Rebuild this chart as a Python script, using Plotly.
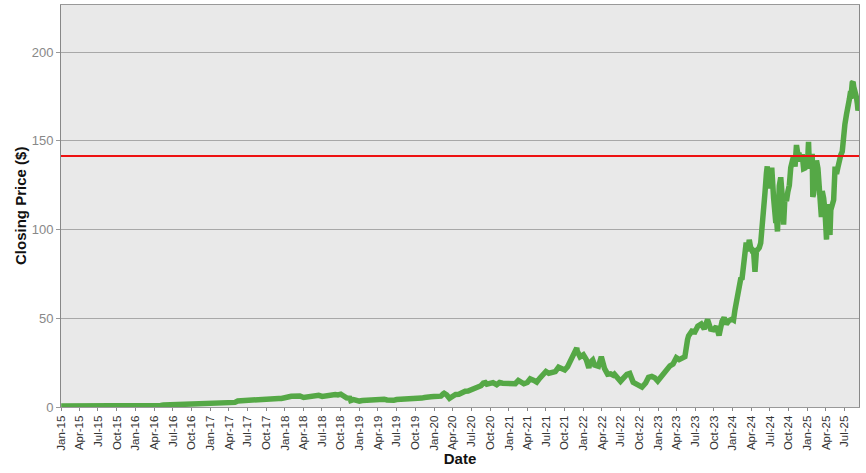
import plotly.graph_objects as go

dates = [
    "2015-01-02","2015-01-15","2015-02-02","2015-02-17","2015-03-02","2015-03-16","2015-04-01","2015-04-15",
    "2015-05-01","2015-05-15","2015-06-01","2015-06-15","2015-07-01","2015-07-15","2015-08-03","2015-08-17",
    "2015-09-01","2015-09-15","2015-10-01","2015-10-15","2015-11-02","2015-11-16","2015-12-01","2015-12-15","2015-12-31",
    "2016-01-15","2016-02-01","2016-02-16","2016-03-01","2016-03-15","2016-04-01","2016-04-15","2016-05-02","2016-05-16",
    "2016-06-01","2016-06-15","2016-07-01","2016-07-15","2016-08-01","2016-08-15","2016-09-01","2016-09-15","2016-10-03",
    "2016-10-17","2016-11-01","2016-11-15","2016-12-01","2016-12-15","2016-12-30",
    "2017-01-13","2017-02-01","2017-02-15","2017-03-01","2017-03-15","2017-04-03","2017-04-17","2017-05-01","2017-05-15",
    "2017-06-01","2017-06-15","2017-07-03","2017-07-17","2017-08-01","2017-08-15","2017-09-01","2017-09-15","2017-10-02",
    "2017-10-16","2017-11-01","2017-11-15","2017-12-01","2017-12-15","2017-12-29",
    "2018-01-16","2018-02-01","2018-02-15","2018-03-01","2018-03-15","2018-04-02","2018-04-16","2018-05-01","2018-05-15",
    "2018-06-01","2018-06-15","2018-07-02","2018-07-16","2018-08-01","2018-08-15","2018-09-04","2018-09-17","2018-10-01",
    "2018-10-15","2018-10-29","2018-11-15","2018-11-19","2018-12-03","2018-12-14","2018-12-24","2018-12-31",
    "2019-01-15","2019-02-01","2019-02-15","2019-03-01","2019-03-15","2019-04-01","2019-04-15","2019-05-01","2019-05-15",
    "2019-06-03","2019-06-17","2019-07-01","2019-07-15","2019-08-01","2019-08-15","2019-09-03","2019-09-16","2019-10-01",
    "2019-10-15","2019-11-01","2019-11-15","2019-12-02","2019-12-16","2019-12-31",
    "2020-01-15","2020-02-03","2020-02-14","2020-02-19","2020-03-02","2020-03-16","2020-04-01","2020-04-15","2020-05-01",
    "2020-05-15","2020-06-01","2020-06-15","2020-07-01","2020-07-15","2020-08-03","2020-08-17","2020-09-01","2020-09-02",
    "2020-09-15","2020-10-01","2020-10-15","2020-11-02","2020-11-16","2020-12-01","2020-12-15","2020-12-31",
    "2021-01-15","2021-02-01","2021-02-16","2021-03-01","2021-03-15","2021-04-01","2021-04-15","2021-05-03","2021-05-17",
    "2021-06-01","2021-06-15","2021-07-01","2021-07-15","2021-08-02","2021-08-16","2021-09-01","2021-09-15","2021-10-01",
    "2021-10-15","2021-11-01","2021-11-15","2021-11-29","2021-12-01","2021-12-15","2021-12-31",
    "2022-01-14","2022-01-27","2022-02-01","2022-02-15","2022-02-24","2022-03-15","2022-03-29","2022-04-14","2022-04-29",
    "2022-05-13","2022-05-26","2022-06-01","2022-06-16","2022-07-01","2022-07-15","2022-08-01","2022-08-15","2022-09-01",
    "2022-09-15","2022-09-30","2022-10-14","2022-11-01","2022-11-15","2022-12-01","2022-12-15","2022-12-30",
    "2023-01-13","2023-01-31","2023-02-15","2023-02-28","2023-03-15","2023-03-31","2023-04-14","2023-04-28","2023-05-12",
    "2023-05-25","2023-05-30","2023-06-15","2023-06-30","2023-07-14","2023-07-31","2023-08-15","2023-08-24","2023-08-31",
    "2023-09-15","2023-09-29","2023-10-13","2023-10-26","2023-11-10","2023-11-20","2023-12-01","2023-12-15","2023-12-29",
    "2024-01-05","2024-01-12","2024-01-19","2024-01-26","2024-02-02","2024-02-09","2024-02-16","2024-02-23","2024-03-01",
    "2024-03-07","2024-03-15","2024-03-22","2024-03-28","2024-04-05","2024-04-12","2024-04-19","2024-04-26","2024-05-03",
    "2024-05-10","2024-05-17","2024-05-23","2024-05-31","2024-06-07","2024-06-14","2024-06-18","2024-06-21","2024-06-28",
    "2024-07-05","2024-07-10","2024-07-19","2024-07-25","2024-07-30","2024-08-02","2024-08-07","2024-08-16","2024-08-23",
    "2024-08-30","2024-09-06","2024-09-13","2024-09-20","2024-09-27","2024-10-04","2024-10-11","2024-10-18","2024-10-25",
    "2024-11-01","2024-11-08","2024-11-15","2024-11-22","2024-11-29","2024-12-06","2024-12-13","2024-12-20","2024-12-27",
    "2024-12-31",
    "2025-01-06","2025-01-10","2025-01-17","2025-01-24","2025-01-27","2025-01-31","2025-02-07","2025-02-14","2025-02-21",
    "2025-02-27","2025-03-07","2025-03-10","2025-03-14","2025-03-21","2025-03-28","2025-04-04","2025-04-09","2025-04-11",
    "2025-04-17","2025-04-21","2025-04-25","2025-05-02","2025-05-09","2025-05-16","2025-05-23","2025-05-30","2025-06-06",
    "2025-06-13","2025-06-20","2025-06-27","2025-07-03","2025-07-11","2025-07-18","2025-07-25","2025-07-31","2025-08-01",
    "2025-08-08","2025-08-12","2025-08-15","2025-08-22","2025-08-29","2025-09-02","2025-09-05","2025-09-09",
]

closes = [
    0.50,0.495,0.51,0.56,0.57,0.54,0.52,0.55,
    0.56,0.555,0.55,0.525,0.50,0.50,0.49,0.585,
    0.56,0.595,0.615,0.675,0.715,0.775,0.805,0.80,0.825,
    0.71,0.74,0.71,0.79,0.865,0.90,0.90,0.89,1.09,
    1.16,1.125,1.175,1.29,1.425,1.54,1.53,1.58,1.715,
    1.685,1.70,2.275,2.29,2.49,2.67,
    2.60,2.76,2.70,2.575,2.55,2.65,2.45,2.60,3.40,
    3.575,3.825,3.50,4.15,4.125,4.125,4.275,4.55,4.575,
    4.95,5.175,5.225,4.85,4.80,4.84,
    5.625,6.05,6.075,5.875,6.175,5.375,5.625,5.625,6.325,
    6.475,6.55,5.975,6.30,6.125,6.30,7.00,6.775,7.225,
    6.175,5.125,4.95,3.625,4.15,3.725,3.225,3.34,
    3.625,3.675,3.95,3.925,4.25,4.60,4.65,4.40,3.95,
    3.425,3.75,4.225,4.325,4.05,3.875,4.15,4.55,4.30,
    4.90,5.025,5.35,5.225,5.775,5.875,
    6.125,6.10,7.35,7.75,6.90,4.90,6.075,7.075,7.15,
    8.15,8.85,9.025,9.60,10.15,11.10,12.0,13.825,14.475,
    12.85,13.20,13.75,12.60,13.825,13.40,13.20,13.05,
    13.0,13.1,14.925,13.70,13.075,13.80,15.825,14.95,14.0,
    16.25,18.0,20.0,19.0,19.7,19.9,22.4,21.9,20.9,
    22.7,26.5,29.6,33.3,31.5,28.3,29.4,
    26.8,22.0,25.0,26.5,23.7,23.0,28.3,21.6,18.5,
    18.7,17.9,18.5,15.8,14.5,16.3,18.4,18.9,13.9,
    13.0,12.1,11.2,13.5,16.7,17.2,16.5,14.6,
    16.9,19.5,22.0,23.2,24.2,27.8,26.7,27.7,28.3,
    38.0,40.1,42.7,42.3,45.5,46.7,44.0,47.1,49.3,
    43.9,43.5,45.4,40.3,48.3,50.4,46.7,48.8,49.5,
    49.0,54.7,59.5,61.0,66.1,72.1,72.6,78.8,82.2,
    92.7,87.8,94.2,90.3,88.0,88.1,76.2,87.7,88.8,
    89.8,92.4,103.8,109.6,120.9,131.9,135.6,126.6,123.5,
    125.8,134.9,117.9,112.3,103.7,107.3,98.9,124.6,129.4,
    119.4,102.8,119.1,116.0,121.4,124.9,134.8,138.0,141.5,
    135.4,147.6,142.0,142.0,138.3,142.4,134.3,134.7,137.0,
    134.3,
    149.4,135.9,137.7,142.6,118.4,120.1,129.8,138.9,134.4,
    120.2,112.7,107.0,121.7,117.7,109.7,94.3,114.3,110.9,
    101.5,96.9,111.0,114.5,116.7,135.4,131.3,135.1,141.7,
    142.0,143.9,157.8,159.3,164.9,172.4,173.5,177.9,173.7,
    182.7,183.2,180.5,178.0,174.2,170.8,167.0,170.8,
]

reference_level = 141.4
y_ticks = [0, 50, 100, 150, 200]

fig = go.Figure()
fig.add_trace(go.Scatter(
    x=dates, y=closes, mode="lines",
    line=dict(color="#55a846", width=5.5),
    showlegend=False, hoverinfo="x+y",
))
fig.add_hline(y=reference_level, line=dict(color="#ee1111", width=2))

font_family = "Arial, Liberation Sans, sans-serif"
fig.update_layout(
    width=866, height=473,
    margin=dict(l=61, r=7, t=5, b=66, autoexpand=False),
    paper_bgcolor="white",
    plot_bgcolor="#e9e9e9",
    font=dict(family=font_family),
    xaxis=dict(
        automargin=False,
        range=["2015-01-01", "2025-09-10"],
        tick0="2015-01-01", dtick="M3", tickformat="%b-%y",
        tickangle=-90, tickfont=dict(size=11.5, color="#333333"),
        showgrid=False, ticks="outside", ticklen=3, tickcolor="#888888",
        showline=True, linecolor="#999999", linewidth=1, mirror=True,
        title=dict(text="<b>Date</b>", font=dict(size=15, color="#111111"), standoff=3),
    ),
    yaxis=dict(
        automargin=False,
        range=[0, 226.5], tickvals=y_ticks,
        tickfont=dict(size=13, color="#888888"),
        ticks="outside", ticklen=4, tickcolor="#999999",
        showgrid=True, gridcolor="#a8a8a8", gridwidth=1,
        zeroline=False,
        showline=True, linecolor="#888888", linewidth=1, mirror=True,
    ),
    annotations=[dict(
        text="<b>Closing Price ($)</b>", textangle=-90,
        xref="paper", yref="paper", x=-0.0514, y=0.5,
        xanchor="center", yanchor="middle", showarrow=False,
        font=dict(size=15, color="#111111", family=font_family),
    )],
)

fig.write_html(
    "out.html",
    config={"displayModeBar": False},
    post_script="document.body.style.margin='0';document.body.style.overflow='hidden';",
)
